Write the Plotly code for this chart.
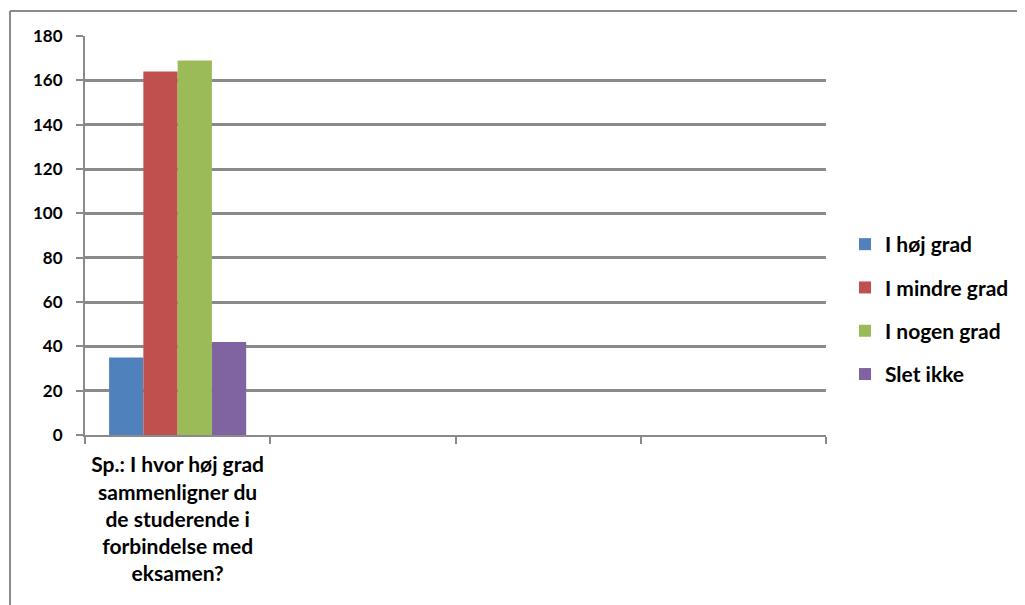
import plotly.graph_objects as go

categories = [
    "Sp.: I hvor høj grad<br>sammenligner du<br>de studerende i<br>forbindelse med<br>eksamen?",
    " ", "  ", "   ",
]
series_names = ["I høj grad", "I mindre grad", "I nogen grad", "Slet ikke"]
series_values = [
    [35, None, None, None],
    [164, None, None, None],
    [169, None, None, None],
    [42, None, None, None],
]
colors = ["#4F81BD", "#C0504D", "#9BBB59", "#8064A2"]
y_ticks = [0, 20, 40, 60, 80, 100, 120, 140, 160, 180]

FONT = "Lato"
GRID = "#8a8a8a"
OFF = 8  # page body margin

fig = go.Figure()
for name, vals, col in zip(series_names, series_values, colors):
    fig.add_trace(go.Bar(
        x=categories, y=vals, name=name, marker_color=col,
        marker_line_width=0, legendgroup=name,
    ))

W, H = 1025 - OFF, 605 - OFF
L, T = 85 - OFF, 36 - OFF
R = W - (826 - OFF)
B = H - (435 - OFF)
pw, ph = W - L - R, H - T - B


def px(x):
    return (x - 85) / pw


def py(y):
    return (435 - y) / ph


fig.update_layout(
    width=W, height=H,
    margin=dict(l=L, r=R, t=T, b=B, pad=0, autoexpand=False),
    paper_bgcolor="white", plot_bgcolor="white",
    barmode="group", bargap=0.26, bargroupgap=0,
    font=dict(family=FONT, size=17, color="#000000", weight="bold"),
    showlegend=True,
    legend=dict(
        x=px(845), y=py(224), xanchor="left", yanchor="top",
        font=dict(family=FONT, size=21, weight="bold"),
        tracegroupgap=13, itemwidth=30, bgcolor="rgba(0,0,0,0)",
    ),
    xaxis=dict(
        type="category", categoryorder="array", categoryarray=categories,
        range=[-0.5, 3.5], tickson="boundaries", ticks="outside", ticklen=7,
        tickwidth=2, tickcolor=GRID, showline=True, linecolor=GRID, linewidth=2,
        showgrid=False, tickfont=dict(family=FONT, size=21, weight="bold"),
        tickangle=0, ticklabelstandoff=10, fixedrange=True,
    ),
    yaxis=dict(
        range=[0, 180], tickvals=y_ticks, ticks="outside", ticklen=7,
        tickwidth=2, tickcolor=GRID, showline=True, linecolor=GRID, linewidth=2,
        showgrid=True, gridcolor=GRID, gridwidth=3, zeroline=False,
        tickfont=dict(family=FONT, size=17, weight="bold"), ticklabelstandoff=10,
        fixedrange=True,
    ),
    shapes=[
        dict(type="line", xref="paper", yref="paper",
             x0=px(10), x1=px(1025), y0=py(11), y1=py(11),
             line=dict(color="#8a8a8a", width=2)),
        dict(type="line", xref="paper", yref="paper",
             x0=px(10), x1=px(10), y0=py(11), y1=py(605),
             line=dict(color="#8a8a8a", width=2)),
    ],
)
fig.write_html("out.html")
